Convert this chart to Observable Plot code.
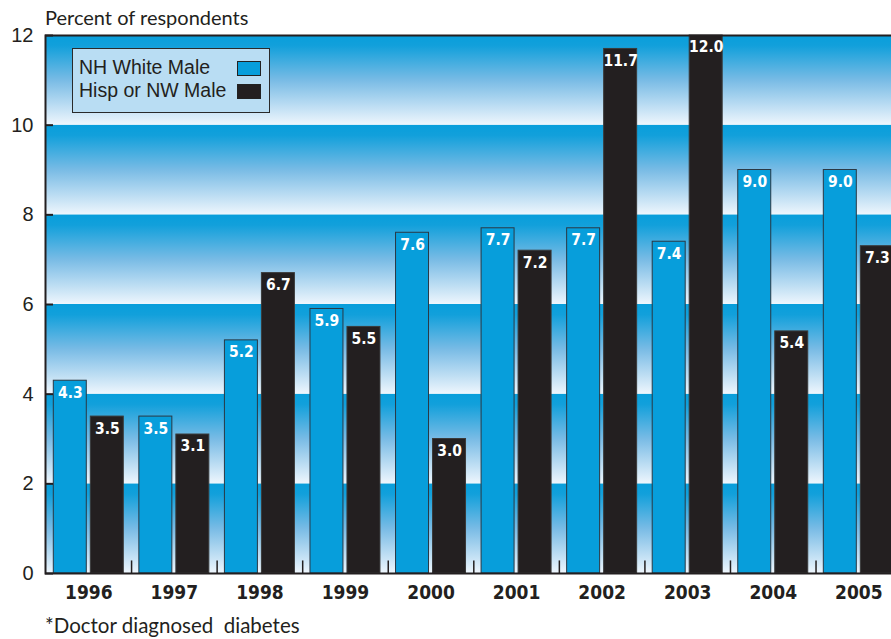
<!DOCTYPE html>
<html><head><meta charset="utf-8">
<script src="https://cdn.jsdelivr.net/npm/d3@7"></script>
<script src="https://cdn.jsdelivr.net/npm/@observablehq/plot@0.6"></script>
<style>
body{margin:0;background:#fff;width:891px;height:639px;overflow:hidden;position:relative;color:#231f20;}
#title{height:25px;padding-top:3px;line-height:28px;padding-left:45px;font-family:Lato,"Open Sans",sans-serif;font-size:20px;box-sizing:content-box;}
#caption{height:30px;line-height:32px;padding-left:45px;font-family:Lato,"Open Sans",sans-serif;font-size:20.5px;white-space:pre;}
#chart svg{display:block;max-width:none;overflow:visible;}
#legend{position:absolute;left:72px;top:48px;width:196px;height:63px;background:#b9ddf3;border:1.5px solid #2a2a2a;font-family:"Liberation Sans",Arial,sans-serif;font-size:19.5px;}
#legend .row{position:absolute;left:6px;height:22px;line-height:22px;}
#legend .sw{position:absolute;left:164px;width:22px;height:13px;border:1.2px solid #222;}
</style></head><body>
<div id="title">Percent of respondents</div>
<div id="chart"></div>
<div id="caption">*Doctor diagnosed  diabetes</div>
<div id="legend"></div>
<script>
const years = ["1996","1997","1998","1999","2000","2001","2002","2003","2004","2005"];
const whiteMale = [4.3, 3.5, 5.2, 5.9, 7.6, 7.7, 7.7, 7.4, 9.0, 9.0];
const hispNwMale = [3.5, 3.1, 6.7, 5.5, 3.0, 7.2, 11.7, 12.0, 5.4, 7.3];
const seriesNames = ["NH White Male", "Hisp or NW Male"];
const seriesColors = ["#079edb", "#231f20"];
const yTicks = [0, 2, 4, 6, 8, 10, 12];

const white = years.map((year, i) => ({year, series: seriesNames[0], value: whiteMale[i]}));
const hisp = years.map((year, i) => ({year, series: seriesNames[1], value: hispNwMale[i]}));
const bands = yTicks.slice(0, -1).map((t, i) => ({y1: t, y2: yTicks[i + 1]}));
const separators = years.slice(0, -1);

const defs = () => {
  const ns = "http://www.w3.org/2000/svg";
  const d = document.createElementNS(ns, "defs");
  const g = document.createElementNS(ns, "linearGradient");
  g.setAttribute("id", "bandGrad");
  g.setAttribute("x1", "0"); g.setAttribute("y1", "0");
  g.setAttribute("x2", "0"); g.setAttribute("y2", "1");
  [[0, "#089edb"], [0.12, "#12a0db"], [0.5, "#78bbe5"], [1, "#eef6fd"]].forEach(([o, c]) => {
    const s = document.createElementNS(ns, "stop");
    s.setAttribute("offset", o);
    s.setAttribute("stop-color", c);
    g.appendChild(s);
  });
  d.appendChild(g);
  return d;
};

const labelFont = '"Liberation Sans Narrow","DejaVu Sans Condensed","Liberation Sans",sans-serif';

const chart = Plot.plot({
  width: 891,
  height: 581,
  marginTop: 7,
  marginBottom: 36,
  marginLeft: 45,
  marginRight: 0,
  style: {fontFamily: '"Liberation Sans",Arial,sans-serif', color: "#231f20", background: "transparent"},
  x: {type: "band", domain: years, range: [45, 901.6], paddingInner: 0.182, paddingOuter: 0.097, align: 0.5, round: false},
  y: {domain: [0, 12]},
  marks: [
    defs,
    Plot.rectY(bands, {y1: "y1", y2: "y2", fill: "url(#bandGrad)"}),
    Plot.barY(white, {x: "year", y: "value", fill: seriesColors[0], stroke: "#2a3844", strokeWidth: 1, insetRight: 37}),
    Plot.barY(hisp, {x: "year", y: "value", fill: seriesColors[1], stroke: "#3a3a3a", strokeWidth: 1, insetLeft: 37}),
    Plot.text(white, {x: "year", y: "value", text: d => d.value.toFixed(1), dx: -18.5, dy: 12, fill: "white", fontWeight: "bold", fontSize: 15.5, fontFamily: labelFont}),
    Plot.text(hisp, {x: "year", y: "value", text: d => d.value.toFixed(1), dx: 18.5, dy: 12, fill: "white", fontWeight: "bold", fontSize: 15.5, fontFamily: labelFont}),
    Plot.ruleX(separators, {x: d => d, dx: 42.78, y1: 0, y2: 0.28, stroke: "#231f20", strokeWidth: 1.5}),
    Plot.frame({stroke: "#231f20", strokeWidth: 2, insetRight: -6}),
    Plot.axisY({ticks: yTicks, tickSize: -8, tickPadding: 20, fontSize: 20, label: null, stroke: "#231f20", strokeWidth: 2}),
    Plot.axisX({tickSize: 0, tickPadding: 12, fontSize: 19, fontWeight: "bold", fontFamily: labelFont, label: null})
  ]
});
document.getElementById("chart").appendChild(chart);

const legend = document.getElementById("legend");
seriesNames.forEach((name, i) => {
  const row = document.createElement("div");
  row.className = "row";
  row.style.top = (7 + i * 23) + "px";
  row.textContent = name;
  legend.appendChild(row);
  const sw = document.createElement("div");
  sw.className = "sw";
  sw.style.top = (12 + i * 23) + "px";
  sw.style.background = seriesColors[i];
  legend.appendChild(sw);
});
</script>
</body></html>
